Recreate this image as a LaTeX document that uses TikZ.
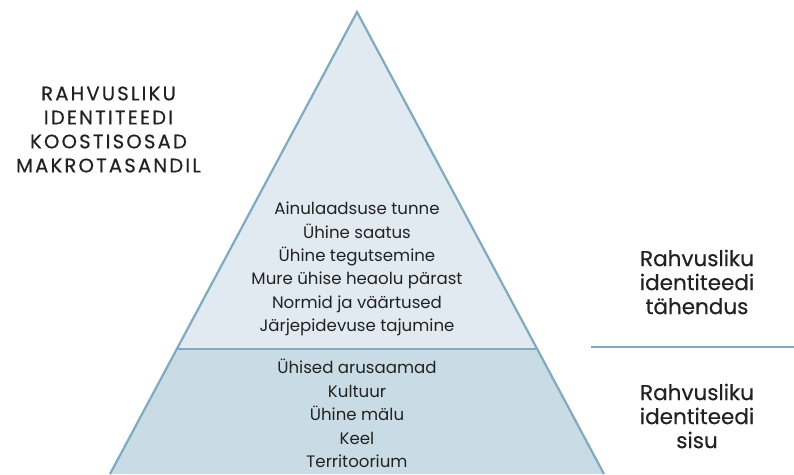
\documentclass[tikz,border=0pt]{standalone}
\usepackage{fontspec}
\setmainfont{Poppins}
\usetikzlibrary{calc}
\definecolor{topfill}{HTML}{E2EAF1}
\definecolor{basefill}{HTML}{C9DCE5}
\definecolor{edge}{HTML}{7FAAC0}
\definecolor{ink}{HTML}{222222}
\tikzset{
  edgeline/.style={draw=edge, line width=2.2pt},
  itemlist/.style={align=center, inner sep=0pt, text=ink, font=\fontsize{16.6}{23.4}\selectfont},
  sidelabel/.style={align=center, inner sep=0pt, text=ink,
    font=\fontsize{21.5}{24}\selectfont\addfontfeatures{FakeBold=0.4}},
  titlelabel/.style={align=center, inner sep=0pt, text=ink,
    font=\fontsize{19.5}{24}\selectfont\addfontfeatures{LetterSpace=11.5,FakeBold=0.6}},
}
\begin{document}
\begin{tikzpicture}[x=1pt, y=1pt]
\useasboundingbox (0,0) rectangle (794,474);
% pyramid corners (y measured upwards)
\coordinate (apex) at (357,462);
\coordinate (bl) at (110,0);
\coordinate (br) at (604,0);
\coordinate (dl) at ($(apex)!0.7294!(bl)$);
\coordinate (dr) at ($(apex)!0.7294!(br)$);
% tiers
\fill[topfill] (apex) -- (dr) -- (dl) -- cycle;
\fill[basefill] (dl) -- (dr) -- (br) -- (bl) -- cycle;
\draw[edgeline] (dl) -- (dr);
\draw[edgeline, line join=miter] (bl) -- (apex) -- (br);
% separator on the right
\coordinate (sepA) at (591,127);
\coordinate (sepB) at (794,127);
\draw[edgeline] (sepA) -- (sepB);
% texts
\node[itemlist] (upper) at (357,205) {Ainulaadsuse tunne\\Ühine saatus\\Ühine tegutsemine\\Mure ühise heaolu pärast\\Normid ja väärtused\\Järjepidevuse tajumine};
\node[itemlist] (lower) at (357,60.5) {Ühised arusaamad\\Kultuur\\Ühine mälu\\Keel\\Territoorium};
\node[titlelabel] (title) at (108.5,344.5) {RAHVUSLIKU\\IDENTITEEDI\\KOOSTISOSAD\\MAKROTASANDIL};
\node[sidelabel] (meaning) at (697,192) {Rahvusliku\\identiteedi\\tähendus};
\node[sidelabel] (content) at (697,58) {Rahvusliku\\identiteedi\\sisu};
\end{tikzpicture}
\end{document}
